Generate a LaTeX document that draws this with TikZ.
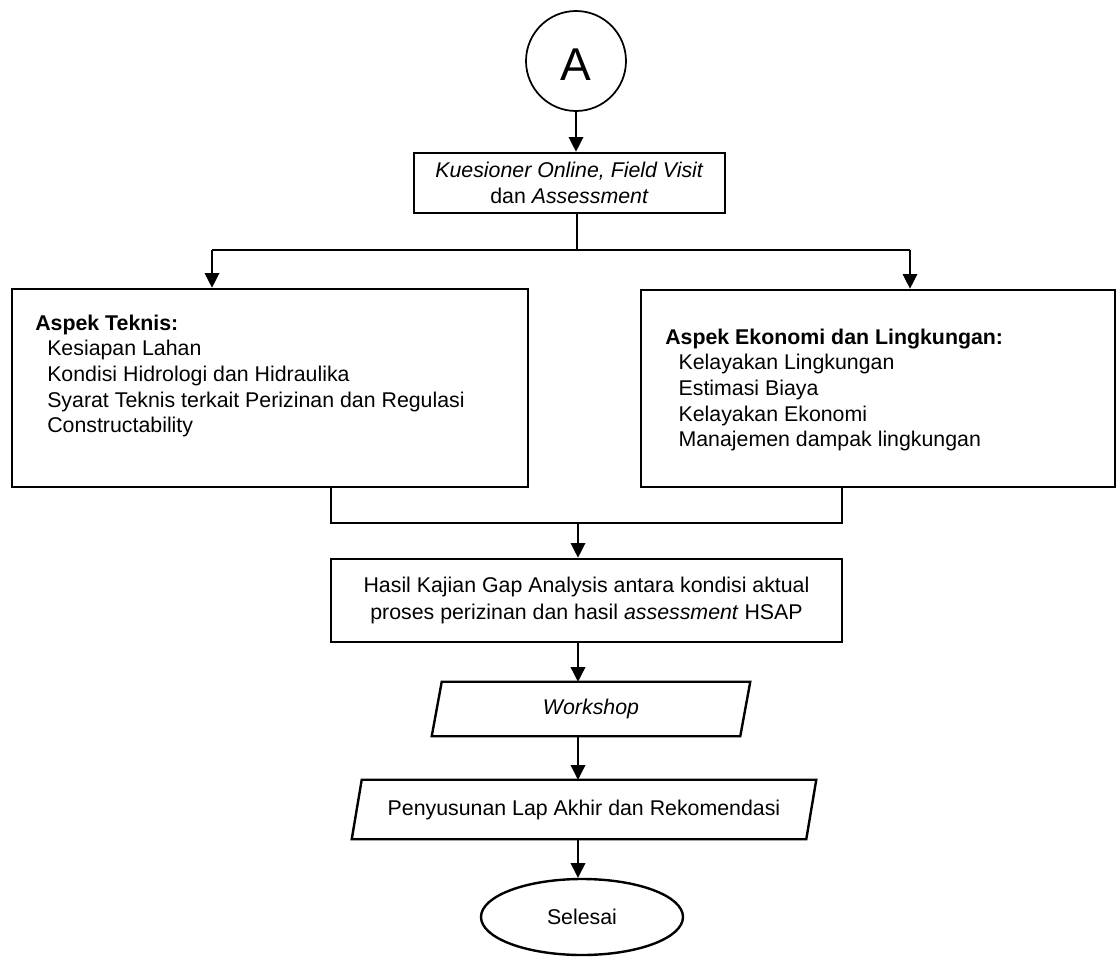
\documentclass[tikz,border=0pt]{standalone}
\usepackage{fontspec}
\setmainfont{Liberation Sans}
\usetikzlibrary{arrows.meta,shapes.geometric,calc}
\begin{document}
\begin{tikzpicture}[x=0.75pt,y=-0.75pt,
  conn/.style={line width=1pt,-{Triangle[length=11pt,width=11pt]}},
  joinline/.style={line width=1pt},
  boxshape/.style={draw,line width=2pt,rectangle,inner sep=0pt},
  plain/.style={rectangle,inner sep=0pt},
  para/.style={line width=1.8pt,line join=miter},
  txt/.style={font=\fontsize{16}{19.2}\selectfont,inner sep=0pt},
]
\useasboundingbox (0,0) rectangle (1118,960);

% start connector
\node[draw,circle,line width=1.3pt,minimum size=75pt,inner sep=0pt] (A) at (576,61) {};
\node[font=\fontsize{34.5}{40}\selectfont,inner sep=0pt] (Atext) at (576,65) {A};

\coordinate (axis) at (578,0);

% first box
\node[boxshape,minimum width=311*0.75pt,minimum height=60*0.75pt,align=center,
      font=\fontsize{16}{19.5}\selectfont] (k) at (569.5,183)
  {\textit{Kuesioner Online, Field Visit}\\dan \textit{Assessment}};

% left and right boxes
\node[boxshape,minimum width=516*0.75pt,minimum height=198*0.75pt] (t) at (270,388) {};
\node[txt,anchor=north west,align=left] (ttext) at (35,314.5)
  {\textbf{Aspek Teknis:}\\
   \hspace*{9pt}Kesiapan Lahan\\
   \hspace*{9pt}Kondisi Hidrologi dan Hidraulika\\
   \hspace*{9pt}Syarat Teknis terkait Perizinan dan Regulasi\\
   \hspace*{9pt}Constructability};

\node[boxshape,minimum width=474*0.75pt,minimum height=197*0.75pt] (e) at (878,388.5) {};
\node[txt,anchor=north west,align=left] (etext) at (665,328.5)
  {\textbf{Aspek Ekonomi dan Lingkungan:}\\
   \hspace*{10pt}Kelayakan Lingkungan\\
   \hspace*{10pt}Estimasi Biaya\\
   \hspace*{10pt}Kelayakan Ekonomi\\
   \hspace*{10pt}Manajemen dampak lingkungan};

% result box
\node[boxshape,minimum width=511*0.75pt,minimum height=83*0.75pt,align=center,
      font=\fontsize{16}{20}\selectfont] (h) at (586.5,600.5)
  {Hasil Kajian Gap Analysis antara kondisi aktual\\proses perizinan dan hasil \textit{assessment} HSAP};

% workshop parallelogram
\node[plain,minimum width=318*0.75pt,minimum height=54*0.75pt,font=\fontsize{16}{19.2}\selectfont] (w) at (591,709) {\textit{Workshop}};
\draw[para] ([xshift=7.5pt]w.north west) -- (w.north east) -- ([xshift=-7.5pt]w.south east) -- (w.south west) -- cycle;

% report parallelogram
\node[plain,minimum width=464*0.75pt,minimum height=59*0.75pt,font=\fontsize{16}{19.2}\selectfont] (p) at (584,809.5) {Penyusunan Lap Akhir dan Rekomendasi};
\draw[para] ([xshift=7.5pt]p.north west) -- (p.north east) -- ([xshift=-7.5pt]p.south east) -- (p.south west) -- cycle;

% end
\node[draw,ellipse,line width=1.8pt,minimum width=202*0.75pt,minimum height=76*0.75pt,inner sep=0pt,
      font=\fontsize{16}{19.2}\selectfont] (s) at (582,917) {Selesai};

% connectors
\draw[conn] (A.south) -- (k.north -| A.south);
\coordinate (j1) at (577,250);
\coordinate (lt) at (212,250);
\coordinate (rt) at (910,250);
\draw[joinline] (k.south -| j1) -- (j1);
\draw[joinline] (lt) -- (rt);
\draw[conn] (lt) -- (lt |- t.north);
\draw[conn] (rt) -- (rt |- e.north);

\coordinate (lb) at (331,523);
\coordinate (rb) at (842,523);
\draw[joinline] (t.south -| lb) -- (lb) -- (rb) -- (e.south -| rb);
\draw[conn] (axis |- lb) -- (h.north -| axis);
\draw[conn] (h.south -| axis) -- (w.north -| axis);
\draw[conn] (w.south -| axis) -- (p.north -| axis);
\draw[conn] (p.south -| axis) -- (s.north -| axis);
\end{tikzpicture}
\end{document}
